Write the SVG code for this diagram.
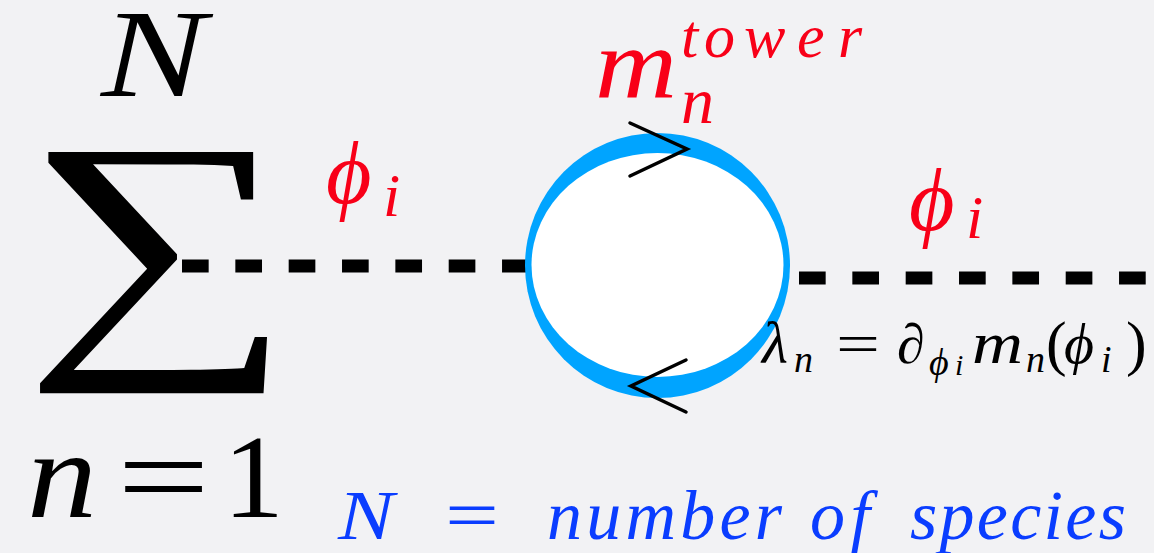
<svg xmlns="http://www.w3.org/2000/svg" width="1154" height="553" viewBox="0 0 1154 553">
<style>
text{font-family:"Liberation Serif","DejaVu Serif",serif;}
.it{font-style:italic;}
.red{fill:#f80018;}
.blk{fill:#000;}
.blu{fill:#0a3dff;}
.dash{stroke:#000;stroke-width:13;stroke-dasharray:26.67 26.67;fill:none;}
.chev{stroke:#000;stroke-width:3.5;fill:none;stroke-linecap:round;stroke-linejoin:miter;}
</style>
<rect width="1154" height="553" fill="#f2f2f4"/>
<g id="sum">
<text class="blk it" x="101" y="96" font-size="124" textLength="105" lengthAdjust="spacingAndGlyphs">N</text>
<text class="blk" transform="translate(23,334) scale(1.265,0.927)" x="0" y="0" font-size="300">∑</text>
<text class="blk it" x="27" y="517" font-size="124" textLength="70" lengthAdjust="spacingAndGlyphs">n</text>
<text class="blk" x="117" y="517" font-size="118" textLength="93" lengthAdjust="spacingAndGlyphs">=</text>
<text class="blk" x="223" y="517" font-size="118" textLength="61" lengthAdjust="spacingAndGlyphs">1</text>
</g>
<g id="connectors">
<line class="dash" x1="182" y1="266" x2="528" y2="266"/>
<line class="dash" x1="799" y1="278" x2="1146" y2="278"/>
</g>
<g id="loop">
<circle cx="657.5" cy="265.5" r="132.5" fill="#00a4ff"/>
<ellipse cx="657.5" cy="265" rx="126" ry="112" fill="#fff"/>
<polyline class="chev" points="630,123 687,149 630,176"/>
<polyline class="chev" points="686,360 631,386 686,412"/>
</g>
<g id="label-mass">
<text class="red it" x="595" y="97" font-size="100" textLength="82" lengthAdjust="spacingAndGlyphs">m</text>
<text class="red it" x="681 704 744 797 838" y="57" font-size="62">tower</text>
<text class="red it" x="681" y="123" font-size="66">n</text>
</g>
<g id="label-phi-left">
<text class="red it" x="326" y="203" font-size="88">ϕ</text>
<text class="red it" x="383" y="216" font-size="62">i</text>
</g>
<g id="label-phi-right">
<text class="red it" x="909" y="230" font-size="88">ϕ</text>
<text class="red it" x="966" y="238" font-size="62">i</text>
</g>
<g id="label-coupling">
<text class="blk it" x="762" y="363" font-size="60">λ</text>
<text class="blk it" x="794" y="372" font-size="38">n</text>
<text class="blk" x="836" y="363" font-size="56" textLength="44" lengthAdjust="spacingAndGlyphs">=</text>
<text class="blk" x="897" y="363" font-size="56">∂</text>
<text class="blk it" x="929" y="375" font-size="38">ϕ</text>
<text class="blk it" x="955" y="375" font-size="30">i</text>
<text class="blk it" x="972" y="363" font-size="60" textLength="51" lengthAdjust="spacingAndGlyphs">m</text>
<text class="blk it" x="1026" y="372" font-size="38">n</text>
<text class="blk" x="1046" y="364" font-size="62">(</text>
<text class="blk it" x="1064" y="363" font-size="58">ϕ</text>
<text class="blk it" x="1101" y="372" font-size="38">i</text>
<text class="blk" x="1126" y="364" font-size="62">)</text>
</g>
<g id="label-species">
<text class="blu it" x="338" y="539" font-size="70" textLength="56" lengthAdjust="spacingAndGlyphs">N</text>
<text class="blu" x="445" y="539" font-size="70" textLength="54" lengthAdjust="spacingAndGlyphs">=</text>
<text class="blu it" x="547" y="539" font-size="70" textLength="235" lengthAdjust="spacing">number</text>
<text class="blu it" x="810" y="539" font-size="70" textLength="60" lengthAdjust="spacing">of</text>
<text class="blu it" x="910" y="539" font-size="70" textLength="216" lengthAdjust="spacing">species</text>
</g>
</svg>
